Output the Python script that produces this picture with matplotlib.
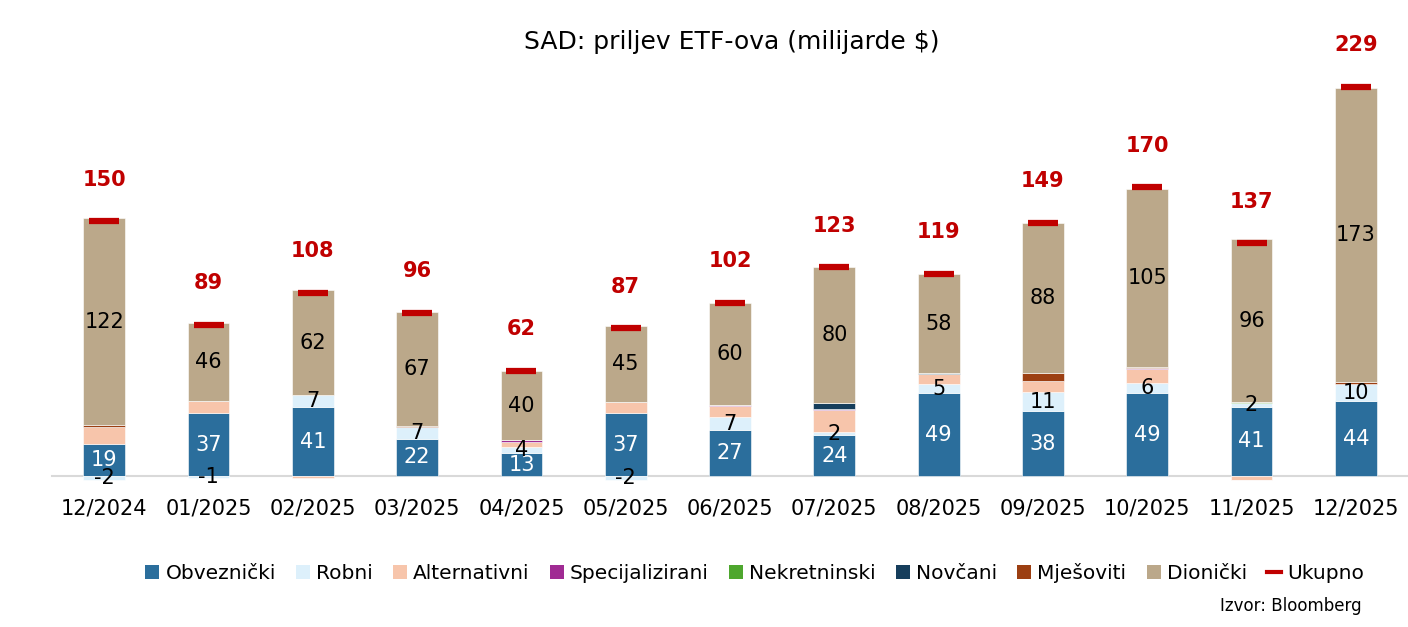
import numpy as np
import matplotlib.pyplot as plt
from matplotlib.patches import Patch
from matplotlib.lines import Line2D

plt.rcParams['font.family'] = ['DejaVu Sans']

months = ['12/2024', '01/2025', '02/2025', '03/2025', '04/2025', '05/2025', '06/2025',
          '07/2025', '08/2025', '09/2025', '10/2025', '11/2025', '12/2025']

# milijarde $
obv = [19, 37, 40.8, 22, 13.4, 37, 27.4, 24, 49, 38.3, 49, 41, 44]
robni = [-2, -1, 6.9, 7, 3.7, -2, 7.2, 2, 5, 11, 6, 2, 10]
alt = [10, 7, -1.2, 0, 3.2, 6.5, 6.8, 13, 6, 6.5, 8, -2, 0]
spec = [0, 0, 0, 0, 1.0, 0, 0.6, 0.5, 0.3, 0.5, 0.4, -0.5, 0]
nekr = [0, 0, 0, 0, 0, 0, 0, 0, 0, 0, 0, 0.5, 0]
novc = [0, 0, 0, 0, 0, 0, 0, 3.5, 0.4, 0, 0.4, 0, 0]
mje = [1, 0, 0, 0.5, 0, 0, 0, 0, 0, 4.5, 0.5, 0, 1.5]
dion = [122, 46, 61.7, 67, 40.4, 45, 60, 80, 58, 88, 105, 96, 173]
ukupno = [150, 89, 108, 96, 62, 87, 102, 123, 119, 149, 170, 137, 229]

series = [
    ('Obvezni\u010dki', obv, '#2B6E9C', 'white'),
    ('Robni', robni, '#DDF0FB', 'black'),
    ('Alternativni', alt, '#F7C5AB', None),
    ('Specijalizirani', spec, '#A02B93', None),
    ('Nekretninski', nekr, '#4EA72E', None),
    ('Nov\u010dani', novc, '#163E5C', None),
    ('Mje\u0161oviti', mje, '#9C3F12', None),
    ('Dioni\u010dki', dion, '#BBA88A', 'black'),
]

fig = plt.figure(figsize=(14.08, 6.27), dpi=100)
ax = fig.add_axes([0.037, 0.227, 0.963, 0.691])

x = np.arange(len(months))
w = 0.40
pos_bottom = np.zeros(len(months))
neg_bottom = np.zeros(len(months))

for name, vals, color, lab_color in series:
    v = np.array(vals, dtype=float)
    bottom = np.where(v >= 0, pos_bottom, neg_bottom)
    ax.bar(x, v, w, bottom=bottom, color=color, edgecolor='white', linewidth=0.4, label=name)
    if lab_color is not None:
        for i in range(len(v)):
            if v[i] != 0:
                ax.text(x[i], bottom[i] + v[i] / 2, f'{v[i]:.0f}', ha='center', va='center',
                        fontsize=15, color=lab_color)
    pos_bottom = np.where(v >= 0, pos_bottom + v, pos_bottom)
    neg_bottom = np.where(v < 0, neg_bottom + v, neg_bottom)

ax.plot(x, ukupno, linestyle='none', marker='_', markersize=22, markeredgewidth=4.5,
        color='#C00000', label='Ukupno')
for i in range(len(x)):
    ax.annotate(f'{ukupno[i]}', (x[i], ukupno[i]), xytext=(0, 30), textcoords='offset points',
                ha='center', va='center', fontsize=15, fontweight='bold', color='#C00000')

ax.set_xlim(-0.5, len(months) - 0.5)
ax.set_ylim(-5, 250)
for s in ['top', 'right', 'left']:
    ax.spines[s].set_visible(False)
ax.spines['bottom'].set_position(('data', 0))
ax.spines['bottom'].set_color('#D9D9D9')
ax.spines['bottom'].set_linewidth(1.5)
ax.spines['bottom'].set_zorder(0)
ax.set_yticks([])
ax.set_xticks(x)
ax.set_xticklabels(months)
ax.tick_params(axis='x', length=0, pad=16, labelsize=15)

fig.text(0.52, 1 - 42 / 627, 'SAD: priljev ETF-ova (milijarde $)', ha='center', va='center',
         fontsize=18)

handles = [Patch(facecolor=c, label=n) for n, _, c, _ in series]
handles.append(Line2D([], [], color='#C00000', linewidth=3, label='Ukupno'))
fig.legend(handles=handles, loc='center', bbox_to_anchor=(0.536, 1 - 573 / 627), ncol=9,
           frameon=False, fontsize=14.5, handlelength=0.7, handleheight=0.7, handletextpad=0.3,
           columnspacing=1.0)

fig.text(1362 / 1408, 1 - 606 / 627, 'Izvor: Bloomberg', ha='right', va='center', fontsize=12)

plt.savefig('out.png')
